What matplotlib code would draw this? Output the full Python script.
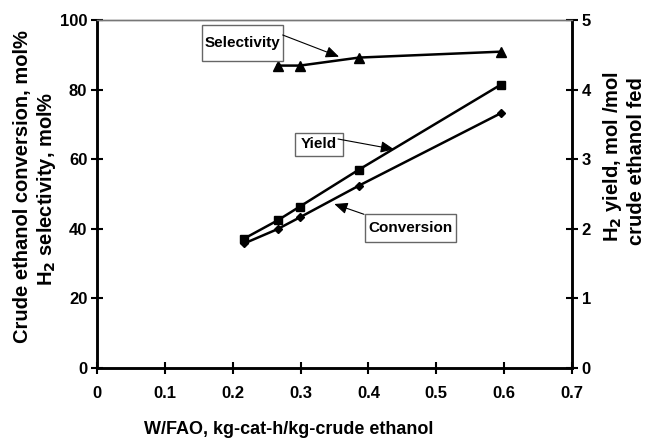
import matplotlib
matplotlib.use("Agg")
import matplotlib.pyplot as plt
from matplotlib.patches import Rectangle

plt.rcParams['font.family'] = ['Liberation Sans', 'DejaVu Sans']
plt.rcParams['font.weight'] = 'bold'

# Data
wfao_conv = [0.217, 0.266, 0.299, 0.386, 0.595]
conversion = [35.8, 39.9, 43.3, 52.4, 73.2]
wfao_yield = [0.217, 0.266, 0.299, 0.386, 0.595]
h2_yield = [1.86, 2.12, 2.32, 2.85, 4.07]
wfao_sel = [0.266, 0.299, 0.386, 0.595]
selectivity = [86.9, 86.9, 89.2, 90.9]

x_ticks = [0, 0.1, 0.2, 0.3, 0.4, 0.5, 0.6, 0.7]
x_ticklabels = ['0', '0.1', '0.2', '0.3', '0.4', '0.5', '0.6', '0.7']
y_ticks = [0, 20, 40, 60, 80, 100]
y2_ticks = [0, 1, 2, 3, 4, 5]

W, H = 648, 441
def fx(px):
    return px / W
def fy(py):
    return 1 - py / H

fig = plt.figure(figsize=(6.48, 4.41), dpi=100)
ax = fig.add_axes([fx(97), fy(368), (572-97)/W, (368-20)/H])
ax2 = ax.twinx()

ax.plot(wfao_conv, conversion, color='black', lw=1.8, marker='D', ms=4.5, zorder=3)
ax.plot(wfao_sel, selectivity, color='black', lw=1.8, marker='^', ms=6.5, zorder=3)
ax2.plot(wfao_yield, h2_yield, color='black', lw=1.8, marker='s', ms=5.5, zorder=3)

ax.set_xlim(0, 0.7)
ax.set_ylim(0, 100)
ax2.set_ylim(0, 5)
ax.set_xticks(x_ticks)
ax.set_xticklabels(x_ticklabels)
ax.set_yticks(y_ticks)
ax2.set_yticks(y2_ticks)

for a in (ax, ax2):
    a.tick_params(direction='inout', length=8, width=1.5, labelsize=12, colors='black')
    for lab in a.get_xticklabels() + a.get_yticklabels():
        lab.set_fontweight('bold')
ax.tick_params(axis='x', pad=9)
ax.tick_params(axis='y', pad=3)
ax2.tick_params(axis='y', pad=3)

for a in (ax, ax2):
    a.spines['left'].set_linewidth(1.8)
    a.spines['bottom'].set_linewidth(1.8)
    a.spines['right'].set_linewidth(1.8)
    a.spines['top'].set_linewidth(1.0)
    a.spines['top'].set_color('#777777')

fig.text(fx(289), fy(430), 'W/FAO, kg-cat-h/kg-crude ethanol',
         ha='center', va='center', fontsize=13, fontweight='bold')
fig.text(fx(23), fy(187), 'Crude ethanol conversion, mol%', rotation=90,
         ha='center', va='center', fontsize=14.5, fontweight='bold')
fig.text(fx(47), fy(189), r'H$_\mathbf{2}$ selectivity, mol%', rotation=90,
         ha='center', va='center', fontsize=14.5, fontweight='bold')
fig.text(fx(613), fy(157), r'H$_\mathbf{2}$ yield, mol /mol', rotation=90,
         ha='center', va='center', fontsize=14.5, fontweight='bold')
fig.text(fx(637), fy(161), 'crude ethanol fed', rotation=90,
         ha='center', va='center', fontsize=14.5, fontweight='bold')

# annotation boxes (pixel geometry of the reference)
boxes = [
    ('Selectivity', (201.7, 25, 282.7, 60.7), (242, 43), (282.7, 35), (339, 56.7)),
    ('Yield', (295, 132.7, 343.3, 156), (319, 144.5), (338, 139), (394, 149.3)),
    ('Conversion', (365, 214, 455.7, 242.3), (410.5, 228.5), (364, 214.3), (334.3, 204)),
]
for label, (x0, y0, x1, y1), (tx, ty), (ax0, ay0), (ax1, ay1) in boxes:
    fig.patches.append(Rectangle((fx(x0), fy(y1)), (x1 - x0) / W, (y1 - y0) / H,
                                 transform=fig.transFigure, fc='white', ec='#666666',
                                 lw=1.0, zorder=4))
    fig.text(fx(tx), fy(ty), label, ha='center', va='center', fontsize=11,
             fontweight='bold', zorder=5)
    fig.add_artist(matplotlib.patches.FancyArrowPatch(
        (fx(ax0), fy(ay0)), (fx(ax1), fy(ay1)), transform=fig.transFigure,
        arrowstyle='-|>,head_length=8,head_width=3.5', color='black', lw=0.8,
        shrinkA=0, shrinkB=0, zorder=6, mutation_scale=1))

fig.savefig('out.png', dpi=100)
